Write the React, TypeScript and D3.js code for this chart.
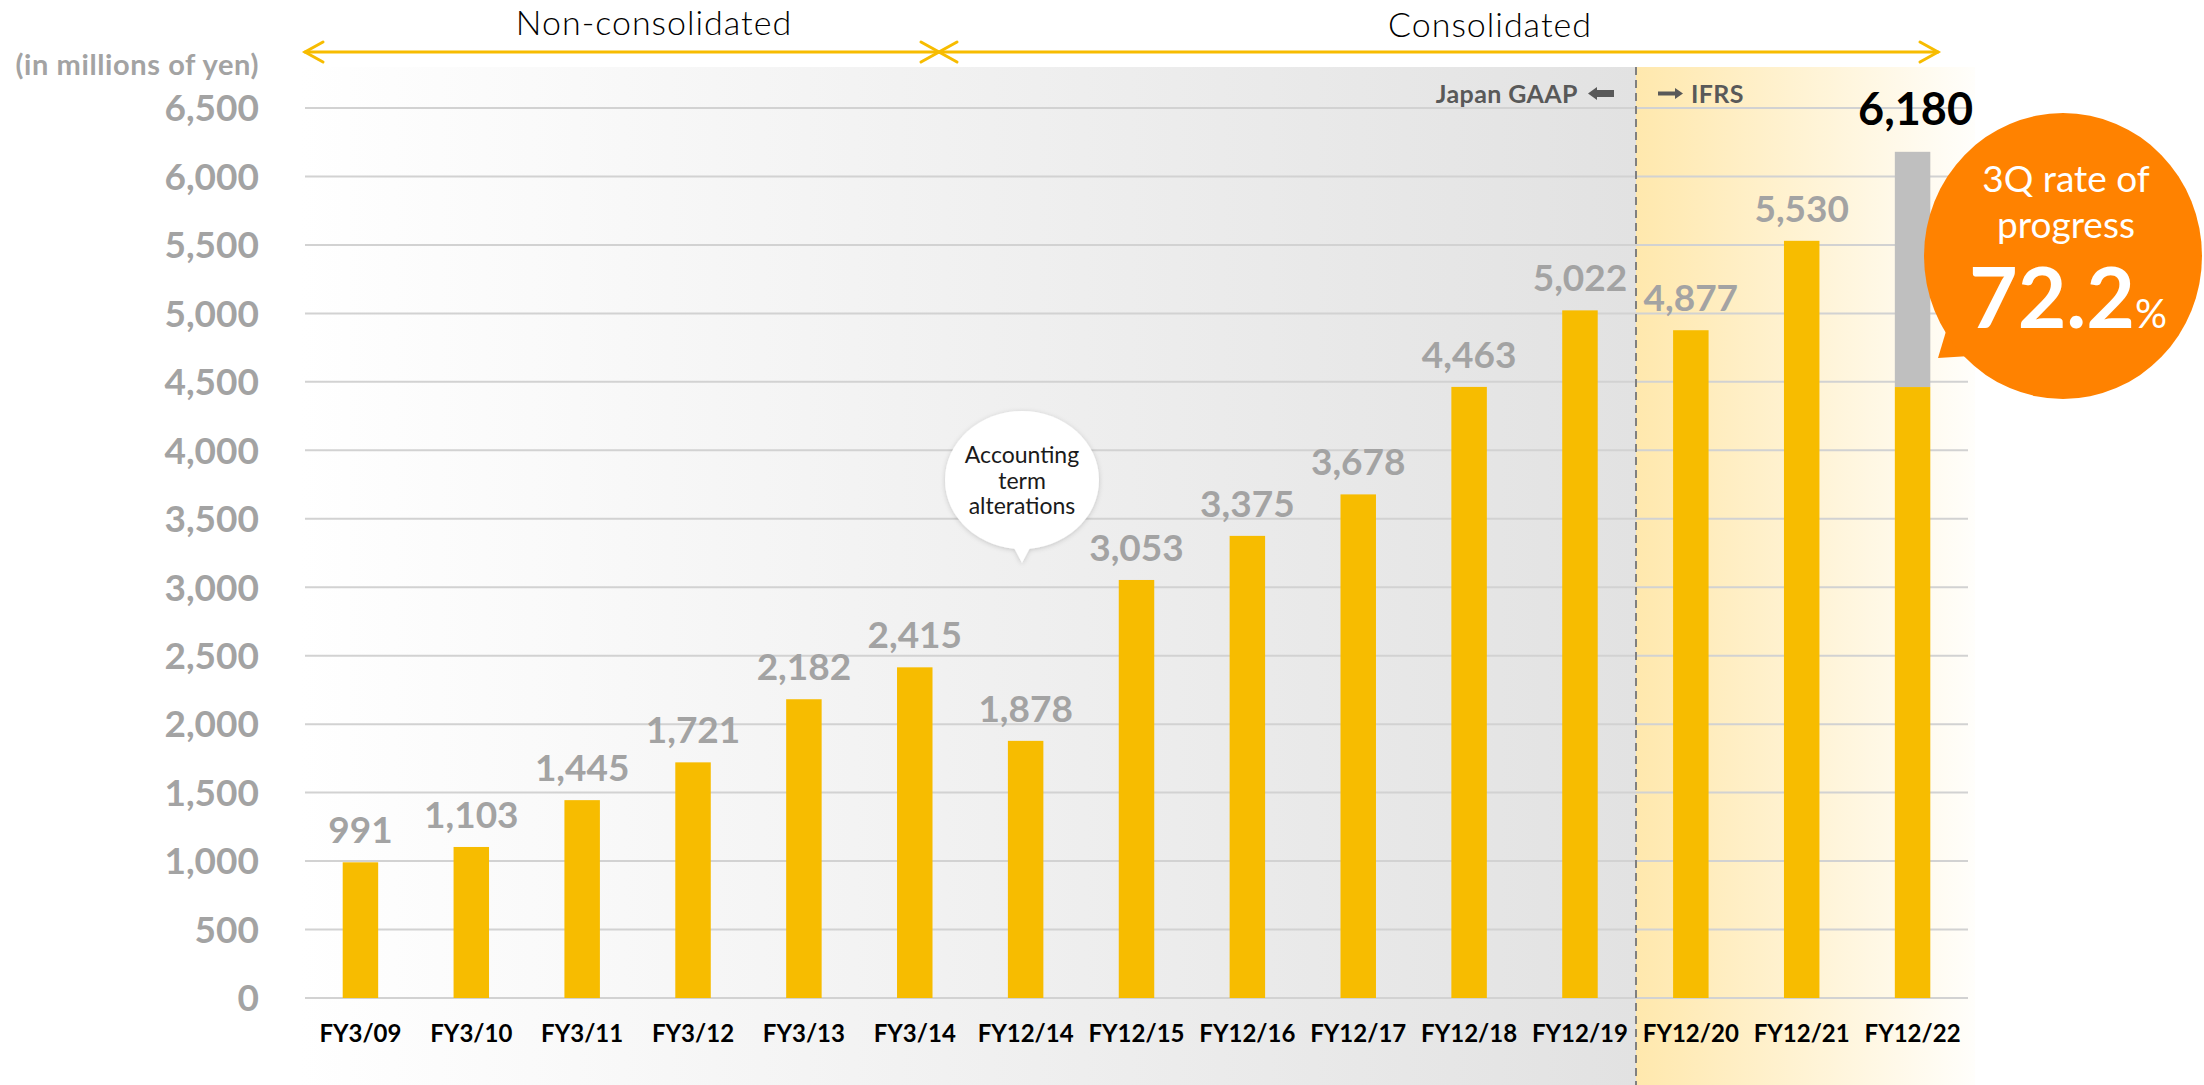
import React from "react";
import * as d3 from "d3";

const categories = ["FY3/09","FY3/10","FY3/11","FY3/12","FY3/13","FY3/14","FY12/14","FY12/15","FY12/16","FY12/17","FY12/18","FY12/19","FY12/20","FY12/21","FY12/22"];
const sales = [991,1103,1445,1721,2182,2415,1878,3053,3375,3678,4463,5022,4877,5530,6180];
const labels = ["991","1,103","1,445","1,721","2,182","2,415","1,878","3,053","3,375","3,678","4,463","5,022","4,877","5,530","6,180"];
const q3Actual = 4462; // 72.2% of 6,180 for FY12/22
const yTicks = [0,500,1000,1500,2000,2500,3000,3500,4000,4500,5000,5500,6000,6500];

const W = 2204, H = 1085;
const FONT = "Lato, 'Noto Sans', 'DejaVu Sans', sans-serif";
const GOLD = "#F7BC00";
const LABEL_GRAY = "#A3A3A3";

export default function App() {
  const x = d3.scaleBand<string>().domain(categories).range([305, 1968]).paddingInner(0.68).paddingOuter(0.34);
  const y = d3.scaleLinear().domain([0, 6500]).range([998, 108]);
  const bw = x.bandwidth();
  const cx = (c: string) => (x(c) as number) + bw / 2;
  const divider = 1636;
  const last = categories.length - 1;

  return (
    <div style={{ position: "absolute", left: 0, top: 0, width: W, height: H, background: "#fff" }}>
      <svg width={W} height={H} style={{ display: "block" }}>
        <defs>
          <linearGradient id="grayBg" x1="0" x2="1" y1="0" y2="0">
            <stop offset="0" stopColor="#ffffff" />
            <stop offset="1" stopColor="#e2e2e2" />
          </linearGradient>
          <linearGradient id="yelBg" x1="0" x2="1" y1="0" y2="0">
            <stop offset="0" stopColor="#ffe8ad" />
            <stop offset="1" stopColor="#fffefb" />
          </linearGradient>
          <filter id="shadow" x="-30%" y="-30%" width="160%" height="160%">
            <feDropShadow dx="0" dy="1" stdDeviation="2.5" floodColor="#000" floodOpacity="0.18" />
          </filter>
        </defs>

        {/* backgrounds */}
        <rect x={300} y={67} width={divider - 300} height={H - 67} fill="url(#grayBg)" />
        <rect x={divider} y={67} width={1975 - divider} height={H - 67} fill="url(#yelBg)" />

        {/* grid */}
        {yTicks.map(t => (
          <line key={t} x1={305} x2={1968} y1={y(t)} y2={y(t)} stroke="#d2d2d2" strokeWidth={2} />
        ))}

        {/* divider */}
        <line x1={divider} x2={divider} y1={67} y2={H} stroke="#808080" strokeWidth={2} strokeDasharray="8 5" />

        {/* y tick labels */}
        {yTicks.map(t => (
          <text key={"t" + t} x={259} y={y(t)} dy="0.36em" textAnchor="end" fontFamily={FONT} fontWeight={700} fontSize={37} fill={LABEL_GRAY}>
            {d3.format(",")(t)}
          </text>
        ))}
        <text x={259} y={75} textAnchor="end" fontFamily={FONT} fontWeight={700} fontSize={29} letterSpacing={0.6} fill={LABEL_GRAY}>(in millions of yen)</text>

        {/* bars */}
        {categories.map((c, i) => (
          i === last ? (
            <g key={c}>
              <rect x={x(c)} y={y(sales[i])} width={bw} height={y(q3Actual) - y(sales[i])} fill="#BFBFBF" />
              <rect x={x(c)} y={y(q3Actual)} width={bw} height={y(0) - y(q3Actual)} fill={GOLD} />
            </g>
          ) : (
            <rect key={c} x={x(c)} y={y(sales[i])} width={bw} height={y(0) - y(sales[i])} fill={GOLD} />
          )
        ))}

        {/* value labels */}
        {categories.map((c, i) => (
          i === last ? (
            <text key={"v" + c} x={cx(c) + 3} y={y(sales[i]) - 27} textAnchor="middle" fontFamily={FONT} fontWeight={700} fontSize={45} fill="#000">{labels[i]}</text>
          ) : (
            <text key={"v" + c} x={cx(c)} y={y(sales[i]) - 19} textAnchor="middle" fontFamily={FONT} fontWeight={700} fontSize={37} fill={LABEL_GRAY}>{labels[i]}</text>
          )
        ))}

        {/* x labels */}
        {categories.map(c => (
          <text key={"x" + c} x={cx(c)} y={1042} textAnchor="middle" fontFamily={FONT} fontWeight={700} fontSize={24} fill="#000">{c}</text>
        ))}

        {/* top arrows */}
        <g stroke={GOLD} strokeWidth={3} fill="none" strokeLinecap="round">
          <line x1={305} x2={1938} y1={52} y2={52} />
          <polyline points="323,42 305,52 323,62" />
          <polyline points="921,42 939,52 921,62" />
          <polyline points="957,42 939,52 957,62" />
          <polyline points="1920,42 1938,52 1920,62" />
        </g>
        <text x={654} y={35} textAnchor="middle" fontFamily={FONT} fontWeight={300} fontSize={34} letterSpacing={1} fill="#000">Non-consolidated</text>
        <text x={1490} y={37} textAnchor="middle" fontFamily={FONT} fontWeight={300} fontSize={34} letterSpacing={1} fill="#000">Consolidated</text>

        {/* GAAP / IFRS */}
        <text x={1578} y={103} textAnchor="end" fontFamily={FONT} fontWeight={700} fontSize={25} letterSpacing={0.4} fill="#595959">Japan GAAP</text>
        <polygon points="1588,93.5 1597,87 1597,90 1614,90 1614,97 1597,97 1597,100" fill="#595959" />
        <polygon points="1683,93.5 1675,88 1675,91.5 1658,91.5 1658,95.5 1675,95.5 1675,99" fill="#595959" />
        <text x={1691} y={103} fontFamily={FONT} fontWeight={700} fontSize={25} letterSpacing={0.4} fill="#595959">IFRS</text>

        {/* accounting bubble */}
        <g filter="url(#shadow)">
          <path d="M1010,540 L1022,563 L1034,540 Z" fill="#fff" />
          <ellipse cx={1022} cy={480} rx={77} ry={69} fill="#fff" />
        </g>
        <g fontFamily={FONT} fontSize={23} fill="#1a1a1a" textAnchor="middle">
          <text x={1022} y={463}>Accounting</text>
          <text x={1022} y={489}>term</text>
          <text x={1022} y={514}>alterations</text>
        </g>

        {/* orange bubble */}
        <path d="M1947,328 L1938,358 L1970,356 Z" fill="#FF8200" />
        <ellipse cx={2063} cy={256} rx={139} ry={143} fill="#FF8200" />
        <g fontFamily={FONT} fill="#fff" textAnchor="middle">
          <text x={2066} y={192} fontSize={37} fontWeight={400}>3Q rate of</text>
          <text x={2066} y={238} fontSize={37} fontWeight={400}>progress</text>
          <text x={2068} y={328} fontWeight={700}>
            <tspan fontSize={84}>72.2</tspan><tspan fontSize={40} fontWeight={400}>%</tspan>
          </text>
        </g>
      </svg>
    </div>
  );
}
